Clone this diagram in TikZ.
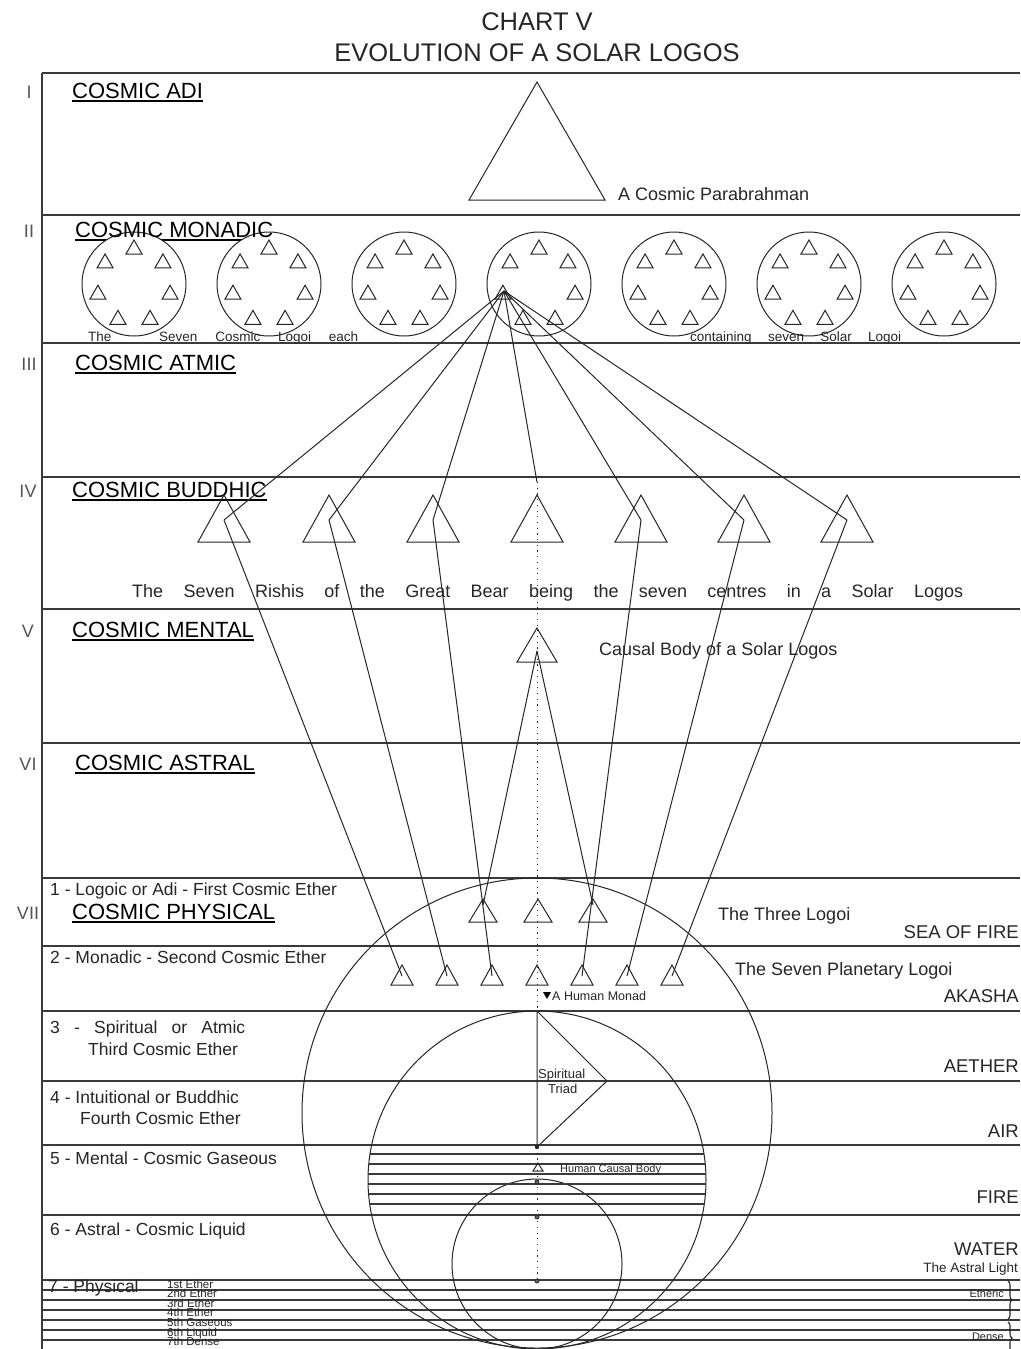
\documentclass[tikz,border=0pt]{standalone}
\usepackage{fontspec}
\setmainfont{Liberation Sans}
\usetikzlibrary{decorations.pathreplacing}
\definecolor{ink}{HTML}{262626}
\definecolor{rulecol}{HTML}{3A3A3A}
\definecolor{numcol}{HTML}{555555}
\newcommand\fs[1]{\fontsize{#1}{#1}\selectfont}
\begin{document}
\begin{tikzpicture}[x=1pt,y=-1pt,
  band/.style={draw=rulecol,line width=1.3pt},
  conn/.style={draw=ink,line width=1pt},
  shapeline/.style={draw=ink,line width=1pt},
  dotline/.style={draw=ink,line width=1pt,dash pattern=on 1.2pt off 4.5pt},
  titletxt/.style={font=\fs{25.5},text=ink,inner sep=0,anchor=base},
  heading/.style={font=\fs{22},text=black,inner sep=0,anchor=base west},
  roman/.style={font=\fs{18},text=numcol,inner sep=0,anchor=base},
  lbl/.style={font=\fs{17.5},text=ink,inner sep=0,anchor=base west},
  elem/.style={font=\fs{18.5},text=ink,inner sep=0,anchor=base east},
  small/.style={font=\fs{13.5},text=ink,inner sep=0,anchor=base west},
  tiny/.style={font=\fs{11.5},text=ink,inner sep=0,anchor=base west},
  uline/.style={draw=black,line width=2.6pt},
]
\useasboundingbox (0,0) rectangle (1020,1349);
\clip (0,0) rectangle (1020,1349);
\fill[white] (0,0) rectangle (1020,1349);

% ---------- title ----------
\node[titletxt] (t1) at (537,30) {CHART V};
\node[titletxt] (t2) at (537,61) {EVOLUTION OF A SOLAR LOGOS};

% ---------- frame and bands ----------
\draw[band] (42,73) -- (1020,73);
\draw[band] (42,73) -- (42,1349);
\foreach \y in {215,343,477,609,743,878,946,1011,1081,1145,1215,1280,1290,1300,1310,1320,1330,1340}
  \draw[band] (42,\y) -- (1020,\y);

% ---------- roman numerals ----------
\node[roman] (n1) at (29,98) {I};
\node[roman] (n2) at (29,237) {II};
\node[roman] (n3) at (29,370) {III};
\node[roman] (n4) at (28,497) {IV};
\node[roman] (n5) at (28,637) {V};
\node[roman] (n6) at (28,770) {VI};
\node[roman] (n7) at (28,919) {VII};

% ---------- headings ----------
\node[heading] (hAdi) at (72,98) {COSMIC ADI};
\draw[uline] ([yshift=-3pt]hAdi.base west) -- ([yshift=-3pt]hAdi.base east);
\node[heading,text opacity=0] (hMonG) at (75,237) {COSMIC MONADIC};
\draw[uline] ([yshift=-3pt]hMonG.base west) -- ([yshift=-3pt]hMonG.base east);
\node[heading] (hAtm) at (75,370) {COSMIC ATMIC};
\draw[uline] ([yshift=-3pt]hAtm.base west) -- ([yshift=-3pt]hAtm.base east);
\node[heading] (hBud) at (72,497) {COSMIC BUDDHIC};
\draw[uline] ([yshift=-3pt]hBud.base west) -- ([yshift=-3pt]hBud.base east);
\node[heading] (hMen) at (72,637) {COSMIC MENTAL};
\draw[uline] ([yshift=-3pt]hMen.base west) -- ([yshift=-3pt]hMen.base east);
\node[heading] (hAst) at (75,770) {COSMIC ASTRAL};
\draw[uline] ([yshift=-3pt]hAst.base west) -- ([yshift=-3pt]hAst.base east);
\node[heading] (hPhy) at (72,919) {COSMIC PHYSICAL};
\draw[uline] ([yshift=-3pt]hPhy.base west) -- ([yshift=-3pt]hPhy.base east);

% ---------- band I ----------
\draw[shapeline] (537,82) -- ++(68,118) -- ++(-136,0) -- cycle;
\node[lbl,font=\fs{18}] (para) at (618,200) {A Cosmic Parabrahman};

% ---------- band II : seven cosmic logoi ----------
\foreach \k in {0,...,6} {
  \draw[shapeline,fill=white] ({134+135*\k},284) circle[radius=52];
  \foreach \i in {0,...,6} {
    \pgfmathsetmacro\px{134+135*\k+37*cos(90+\i*360/7)}
    \pgfmathsetmacro\py{284-37*sin(90+\i*360/7)}
    \draw[shapeline] (\px,{\py-7}) -- ++(8,14) -- ++(-16,0) -- cycle;
  }
}
\node[heading] (hMon) at (75,237) {COSMIC MONADIC};
\node[small] (cl1) at (88,341) {The};
\node[small] (cl2) at (159,341) {\makebox[199pt][s]{Seven Cosmic Logoi each}};
\node[small] (cl3) at (690,341) {\makebox[211pt][s]{containing seven Solar Logoi}};
\coordinate (src) at (504,291);

% ---------- band IV : seven Rishis ----------
\foreach \x [count=\j] in {224,329,433,537,641,744,847} {
  \draw[shapeline] (\x,495) -- ++(26,47) -- ++(-52,0) -- cycle;
  \coordinate (r\j) at (\x,520);
}
\coordinate (r4top) at (537,482);
\node[lbl,font=\fs{18}] (rishi) at (132,597)
  {\makebox[831pt][s]{The Seven Rishis of the Great Bear being the seven centres in a Solar Logos}};

% ---------- band V : causal body ----------
\draw[shapeline] (537,628) -- ++(20,34) -- ++(-40,0) -- cycle;
\coordinate (cb) at (537,651);
\node[lbl,font=\fs{18}] (cblbl) at (599,655) {Causal Body of a Solar Logos};

% ---------- band VII : logoi ----------
\foreach \x [count=\j] in {483,538,593} {
  \draw[shapeline] (\x,899) -- ++(14,23) -- ++(-28,0) -- cycle;
  \coordinate (tl\j) at (\x,905);
}
\foreach \x [count=\j] in {402,447,492,537,582,627,672} {
  \draw[shapeline] (\x,965) -- ++(11,20) -- ++(-22,0) -- cycle;
  \coordinate (p\j) at (\x,976);
}
\node[lbl,font=\fs{18}] (three) at (718,920) {The Three Logoi};
\node[lbl,font=\fs{18}] (seven) at (735,975) {The Seven Planetary Logoi};

% ---------- connectors ----------
\foreach \j in {1,2,3,5,6,7} \draw[conn] (src) -- (r\j);
\draw[conn] (src) -- (r4top);
\foreach \j in {1,2,3,5,6,7} \draw[conn] (r\j) -- (p\j);
\draw[conn] (cb) -- (tl1);
\draw[conn] (cb) -- (tl3);
\coordinate (monad) at (537,1011);
\draw[dotline] (r4top) -- (monad);

% ---------- big circles ----------
\draw[shapeline] (537,1113) circle[radius=235];
\draw[shapeline] (537,1180) circle[radius=169];
\draw[shapeline] (537,1264) circle[radius=85];
\begin{scope}
  \clip (537,1180) circle[radius=169];
  \foreach \y in {1154,1164,...,1204} \draw[band] (300,\y) -- (780,\y);
\end{scope}

% ---------- human monad & triad ----------
\fill[black] (543,992) -- (551,992) -- (547,999) -- cycle;
\node[small,font=\fs{12.5}] (hm) at (552,1000) {A Human Monad};
\coordinate (tr1) at (537,1011);
\coordinate (tr2) at (607,1081);
\coordinate (tr3) at (537,1147);
\draw[conn] (tr1) -- (tr2) -- (tr3) -- cycle;
\fill[ink] (tr3) circle[radius=2.2];
\node[small,font=\fs{13}] (sp1) at (538,1078) {Spiritual};
\node[small,font=\fs{13}] (sp2) at (548,1093) {Triad};
\draw[shapeline,line width=1pt] (538,1163) -- ++(5,8) -- ++(-10,0) -- cycle;
\node[tiny,font=\fs{11}] (hcb) at (560,1172) {Human Causal Body};
\coordinate (physdot) at (537,1281);
\draw[dotline] (tr3) -- (physdot);
\foreach \y in {1182,1217,1281} \draw[ink,line width=0.8pt,fill=black!60] (537,\y) circle[radius=2];

% ---------- sub-plane labels ----------
\node[lbl] (s1) at (50,895) {1 - Logoic or Adi - First Cosmic Ether};
\node[lbl] (s2) at (50,963) {2 - Monadic - Second Cosmic Ether};
\node[lbl] (s3a) at (50,1033) {\makebox[195pt][s]{3 - Spiritual or Atmic}};
\node[lbl] (s3b) at (88,1055) {Third Cosmic Ether};
\node[lbl] (s4a) at (50,1103) {4 - Intuitional or Buddhic};
\node[lbl] (s4b) at (80,1124) {Fourth Cosmic Ether};
\node[lbl] (s5) at (50,1164) {5 - Mental - Cosmic Gaseous};
\node[lbl] (s6) at (50,1235) {6 - Astral - Cosmic Liquid};
\node[lbl] (s7) at (48,1292) {7 - Physical};
\foreach \t [count=\i] in {1st Ether,2nd Ether,3rd Ether,4th Ether,5th Gaseous,6th Liquid,7th Dense}
  \node[tiny] (ph\i) at (167,{1288+9.6*(\i-1)}) {\t};

% ---------- elements ----------
\node[elem] (e1) at (1019,938) {SEA OF FIRE};
\node[elem] (e2) at (1019,1002) {AKASHA};
\node[elem] (e3) at (1019,1072) {AETHER};
\node[elem] (e4) at (1019,1137) {AIR};
\node[elem] (e5) at (1019,1203) {FIRE};
\node[elem] (e6) at (1019,1255) {WATER};
\node[elem,font=\fs{13.5}] (e7) at (1018,1272) {The Astral Light};
\node[elem,font=\fs{11}] (eth) at (1004,1297) {Etheric};
\node[elem,font=\fs{11}] (den) at (1004,1340) {Dense};
\draw[ink,line width=1.1pt,decorate,decoration={brace,amplitude=4pt}] (1008,1281) -- (1008,1319);
\draw[ink,line width=1.1pt,decorate,decoration={brace,amplitude=4pt}] (1008,1322) -- (1008,1354);
\end{tikzpicture}
\end{document}
